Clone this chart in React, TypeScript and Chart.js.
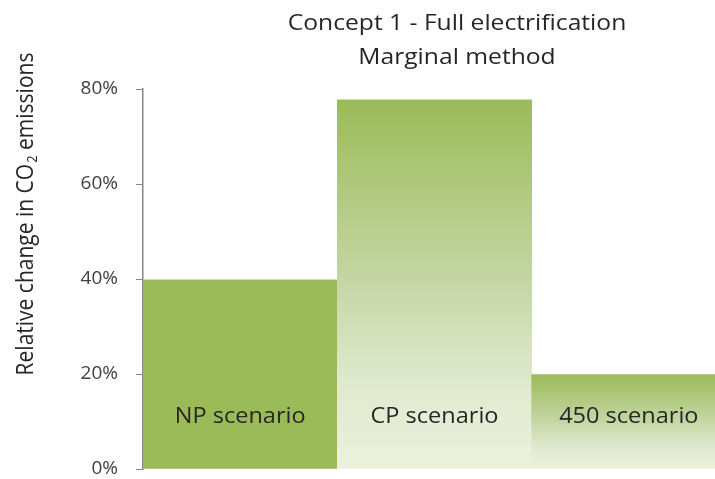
import React, { useEffect, useRef } from 'react';
import { Chart, registerables } from 'chart.js';
Chart.register(...registerables);

const categories = ['NP scenario', 'CP scenario', '450 scenario'];
const values = [0.398, 0.777, 0.199];
const gradientFlags = [false, true, true];
const yTickValues = [0, 0.2, 0.4, 0.6, 0.8];
const titleLines = ['Concept 1 - Full electrification', 'Marginal method'];
const yTitleParts = ['Relative change in CO', '2', ' emissions'];

const GREEN = '#9BBB59';
const LIGHT = '#EBF1DE';
const TEXT = '#262626';
const FONT = '"Open Sans", Lato, sans-serif';
const STRETCH = 1.12;

function stretchedText(ctx: any, text: string, x: number, y: number) {
  ctx.save();
  ctx.translate(x, y);
  ctx.scale(STRETCH, 1);
  ctx.fillText(text, 0, 0);
  ctx.restore();
}

const overlayPlugin = {
  id: 'overlay',
  afterDraw(chart: any) {
    const ctx = chart.ctx;
    ctx.save();
    // Title
    ctx.fillStyle = TEXT;
    ctx.font = `22px ${FONT}`;
    ctx.textAlign = 'center';
    ctx.textBaseline = 'middle';
    stretchedText(ctx, titleLines[0], 457, 24);
    stretchedText(ctx, titleLines[1], 457, 58);
    // Y axis title with subscript
    ctx.translate(33, 214);
    ctx.rotate(-Math.PI / 2);
    ctx.scale(1, STRETCH);
    ctx.textAlign = 'left';
    ctx.textBaseline = 'alphabetic';
    const big = `21px ${FONT}`;
    const small = `13px ${FONT}`;
    ctx.font = big;
    const w1 = ctx.measureText(yTitleParts[0]).width;
    ctx.font = small;
    const w2 = ctx.measureText(yTitleParts[1]).width;
    ctx.font = big;
    const w3 = ctx.measureText(yTitleParts[2]).width;
    let x = -(w1 + w2 + w3 + 1) / 2;
    ctx.fillText(yTitleParts[0], x, 0);
    x += w1;
    ctx.font = small;
    ctx.fillText(yTitleParts[1], x + 1, 4);
    x += w2 + 1;
    ctx.font = big;
    ctx.fillText(yTitleParts[2], x, 0);
    ctx.restore();
  },
  afterDatasetsDraw(chart: any) {
    const ctx = chart.ctx;
    const meta = chart.getDatasetMeta(0);
    const y = chart.scales.y.getPixelForValue(0) - 52;
    ctx.save();
    ctx.fillStyle = TEXT;
    ctx.font = `21px ${FONT}`;
    ctx.textAlign = 'center';
    ctx.textBaseline = 'middle';
    meta.data.forEach((bar: any, i: number) => {
      stretchedText(ctx, categories[i], bar.x, y);
    });
    ctx.restore();
  },
};

export default function App() {
  const ref = useRef<HTMLCanvasElement>(null);
  useEffect(() => {
    if (!ref.current) return;
    const chart = new Chart(ref.current, {
      type: 'bar',
      data: {
        labels: categories,
        datasets: [
          {
            data: values,
            borderWidth: 0,
            backgroundColor: (c: any) => {
              const chart = c.chart;
              const i = c.dataIndex;
              if (!gradientFlags[i] || !chart.scales || !chart.scales.y) return GREEN;
              const y0 = chart.scales.y.getPixelForValue(values[i]);
              const y1 = chart.scales.y.getPixelForValue(0);
              if (!isFinite(y0) || !isFinite(y1)) return GREEN;
              const g = chart.ctx.createLinearGradient(0, y0, 0, y1);
              g.addColorStop(0, GREEN);
              g.addColorStop(0.5, '#C6D7A5');
              g.addColorStop(0.78, '#E1EACF');
              g.addColorStop(1, LIGHT);
              return g;
            },
            categoryPercentage: 1,
            barPercentage: 1,
          },
        ],
      },
      options: {
        responsive: false,
        animation: false,
        layout: { padding: { top: 89, bottom: 10, left: 0, right: 0 } },
        plugins: {
          legend: { display: false },
          title: { display: false },
          tooltip: { enabled: false },
        },
        scales: {
          x: { display: false },
          y: {
            min: 0,
            max: 0.8,
            afterBuildTicks: (scale: any) => {
              scale.ticks = yTickValues.map((v) => ({ value: v }));
            },
            afterFit: (scale: any) => {
              scale.width = 143;
              scale.paddingBottom = 9;
              scale.paddingTop = 9;
            },
            ticks: {
              callback: (v: any) => `${Math.round(Number(v) * 100)}%`,
              color: '#404040',
              font: { family: FONT, size: 19 },
              padding: 18,
            },
            grid: {
              drawOnChartArea: false,
              drawTicks: true,
              tickLength: 7,
              color: '#868686',
            },
            border: { display: true, color: '#868686', width: 1.5 },
          },
        },
      },
      plugins: [overlayPlugin],
    });
    return () => chart.destroy();
  }, []);
  return (
    <div style={{ position: 'fixed', left: 0, top: 0, width: 715, height: 479, overflow: 'hidden', background: '#fff' }}>
      <canvas ref={ref} width={726} height={479} />
    </div>
  );
}
